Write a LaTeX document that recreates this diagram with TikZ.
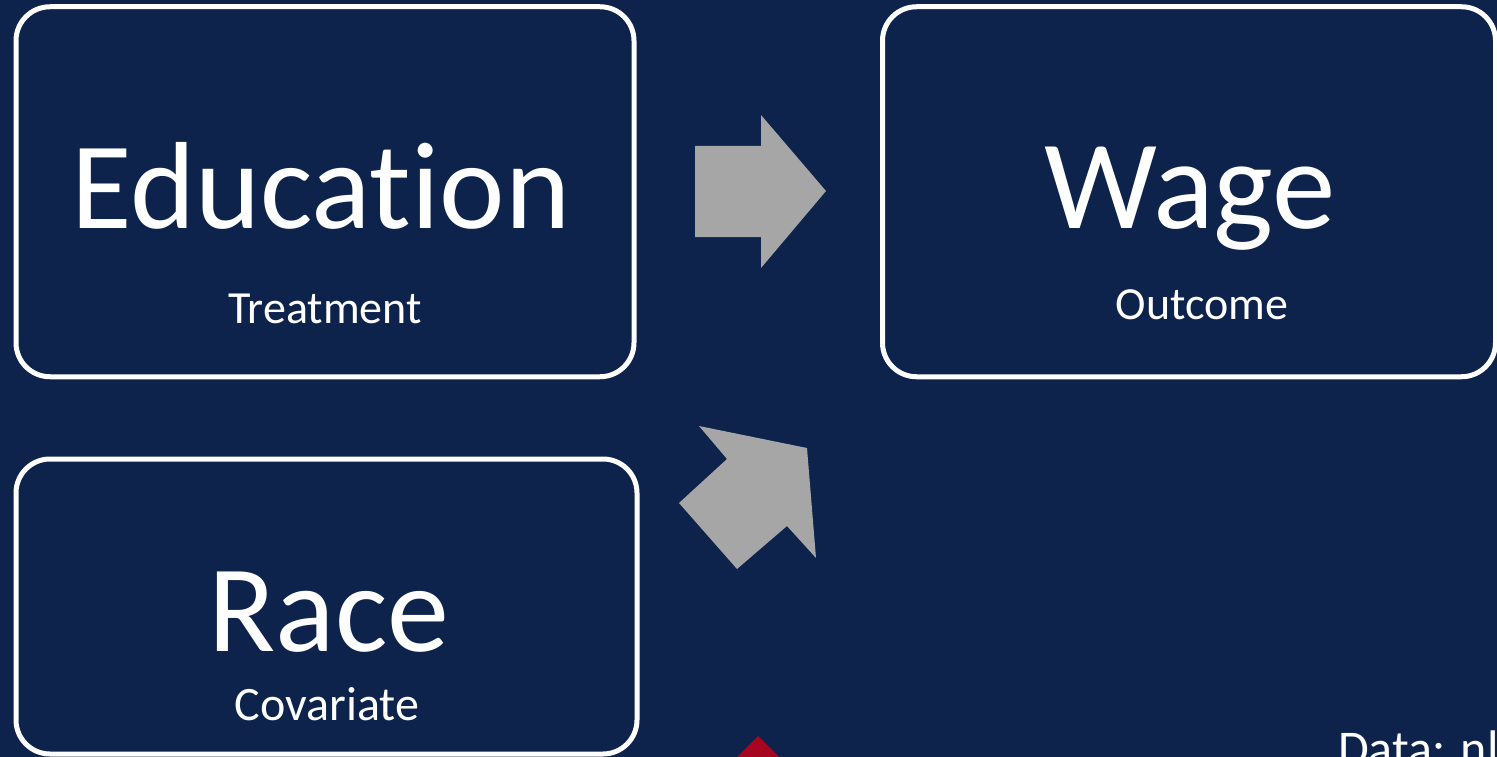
\documentclass[tikz,border=0pt]{standalone}
\usepackage{fontspec}
\setmainfont{Carlito}[Ligatures=CommonOff]
\definecolor{navy}{HTML}{0D234C}
\definecolor{arrowgray}{HTML}{A6A6A6}
\definecolor{accentred}{HTML}{A6061F}
\begin{document}
\begin{tikzpicture}[x=1pt,y=-1pt,
  box/.style={draw=white,line width=5pt,rounded corners=34pt,fill=navy,inner sep=0pt},
  bigtext/.style={text=white,anchor=base,inner sep=0pt,font=\fontsize{#1}{#1}\selectfont},
  blockarrow/.style={fill=arrowgray,draw=none}]
  % page and background
  \useasboundingbox (0,0) rectangle (1497,757);
  \clip (0,0) rectangle (1497,757);
  \fill[navy] (0,0) rectangle (1497,757);

  % variable boxes
  \node[box,minimum width=618pt,minimum height=370pt] (edu) at (325,191.75) {};
  \node[box,minimum width=613pt,minimum height=370pt] (wage) at (1189,191.75) {};
  \node[box,minimum width=621pt,minimum height=295pt] (race) at (326.5,606.5) {};

  % box labels
  \node[bigtext=124] (edutitle) at (321,228) {Education};
  \node[bigtext=46] (edusub) at (325,323) {Treatment};
  \node[bigtext=127] (wagetitle) at (1190,228) {Wage};
  \node[bigtext=46] (wagesub) at (1202,319) {Outcome};
  \node[bigtext=124] (racetitle) at (329,651) {Race};
  \node[bigtext=48] (racesub) at (327,720) {Covariate};

  % block arrows
  \fill[blockarrow] (695,146) -- (761,146) -- (761,115) -- (826,191)
    -- (761,268) -- (761,237) -- (695,237) -- cycle;
  \fill[blockarrow] (699,426) -- (807,448) -- (816,558) -- (787,526)
    -- (737,569) -- (679,503) -- (727,459) -- cycle;

  % accent diamond and data note
  \fill[accentred] (758,736) -- (788,766) -- (758,796) -- (728,766) -- cycle;
  \node[text=white,anchor=base west,inner sep=0pt,font=\fontsize{50}{50}\selectfont] (data) at (1338,765) {Data: nls};
\end{tikzpicture}
\end{document}
